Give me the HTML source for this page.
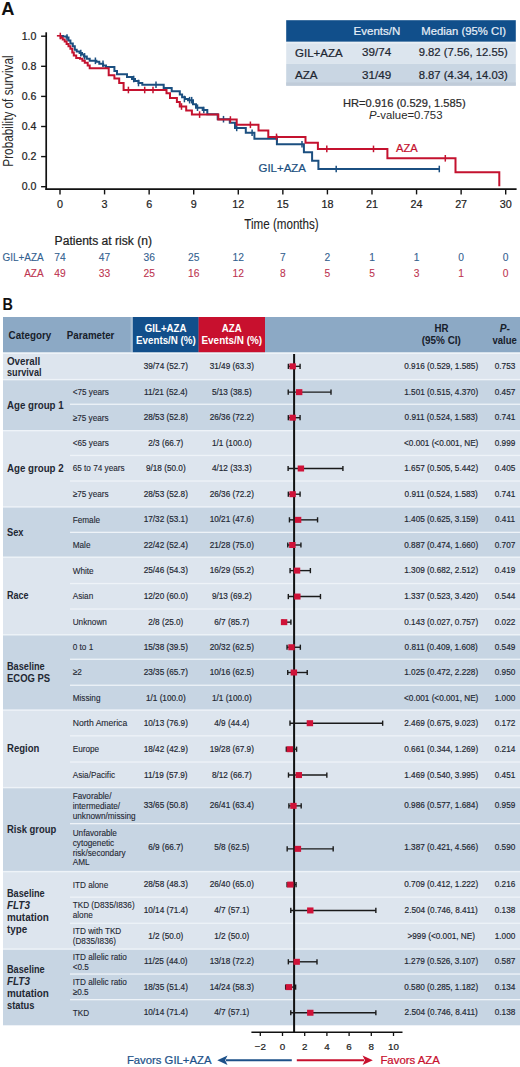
<!DOCTYPE html>
<html><head><meta charset="utf-8"><title>Figure</title>
<style>
html,body{margin:0;padding:0;background:#fff;}
body{width:520px;height:1067px;overflow:hidden;}
svg{display:block;font-family:"Liberation Sans",sans-serif;}
</style></head>
<body>
<svg width="520" height="1067" viewBox="0 0 520 1067">
<rect x="0" y="0" width="520" height="1067" fill="#ffffff"/>
<text x="1.30" y="14.80" font-size="17.5" fill="#111" font-weight="bold" textLength="13.20" lengthAdjust="spacingAndGlyphs">A</text>
<line x1="46.20" y1="32.30" x2="46.20" y2="189.90" stroke="#111" stroke-width="1.7"/>
<line x1="45.40" y1="189.20" x2="516.60" y2="189.20" stroke="#111" stroke-width="1.7"/>
<line x1="41.10" y1="186.70" x2="46.20" y2="186.70" stroke="#111" stroke-width="1.4"/>
<text x="36.40" y="190.30" font-size="11" fill="#222" stroke="#222" stroke-width="0.22" text-anchor="end" textLength="14.70" lengthAdjust="spacingAndGlyphs">0.0</text>
<line x1="41.10" y1="156.60" x2="46.20" y2="156.60" stroke="#111" stroke-width="1.4"/>
<text x="36.40" y="160.20" font-size="11" fill="#222" stroke="#222" stroke-width="0.22" text-anchor="end" textLength="14.70" lengthAdjust="spacingAndGlyphs">0.2</text>
<line x1="41.10" y1="126.50" x2="46.20" y2="126.50" stroke="#111" stroke-width="1.4"/>
<text x="36.40" y="130.10" font-size="11" fill="#222" stroke="#222" stroke-width="0.22" text-anchor="end" textLength="14.70" lengthAdjust="spacingAndGlyphs">0.4</text>
<line x1="41.10" y1="96.40" x2="46.20" y2="96.40" stroke="#111" stroke-width="1.4"/>
<text x="36.40" y="100.00" font-size="11" fill="#222" stroke="#222" stroke-width="0.22" text-anchor="end" textLength="14.70" lengthAdjust="spacingAndGlyphs">0.6</text>
<line x1="41.10" y1="66.30" x2="46.20" y2="66.30" stroke="#111" stroke-width="1.4"/>
<text x="36.40" y="69.90" font-size="11" fill="#222" stroke="#222" stroke-width="0.22" text-anchor="end" textLength="14.70" lengthAdjust="spacingAndGlyphs">0.8</text>
<line x1="41.10" y1="36.20" x2="46.20" y2="36.20" stroke="#111" stroke-width="1.4"/>
<text x="36.40" y="39.80" font-size="11" fill="#222" stroke="#222" stroke-width="0.22" text-anchor="end" textLength="14.70" lengthAdjust="spacingAndGlyphs">1.0</text>
<line x1="60.00" y1="189.20" x2="60.00" y2="194.40" stroke="#111" stroke-width="1.4"/>
<text x="60.00" y="208.30" font-size="11.5" fill="#222" stroke="#222" stroke-width="0.22" text-anchor="middle" textLength="6.00" lengthAdjust="spacingAndGlyphs">0</text>
<line x1="104.57" y1="189.20" x2="104.57" y2="194.40" stroke="#111" stroke-width="1.4"/>
<text x="104.57" y="208.30" font-size="11.5" fill="#222" stroke="#222" stroke-width="0.22" text-anchor="middle" textLength="6.00" lengthAdjust="spacingAndGlyphs">3</text>
<line x1="149.14" y1="189.20" x2="149.14" y2="194.40" stroke="#111" stroke-width="1.4"/>
<text x="149.14" y="208.30" font-size="11.5" fill="#222" stroke="#222" stroke-width="0.22" text-anchor="middle" textLength="6.00" lengthAdjust="spacingAndGlyphs">6</text>
<line x1="193.71" y1="189.20" x2="193.71" y2="194.40" stroke="#111" stroke-width="1.4"/>
<text x="193.71" y="208.30" font-size="11.5" fill="#222" stroke="#222" stroke-width="0.22" text-anchor="middle" textLength="6.00" lengthAdjust="spacingAndGlyphs">9</text>
<line x1="238.28" y1="189.20" x2="238.28" y2="194.40" stroke="#111" stroke-width="1.4"/>
<text x="238.28" y="208.30" font-size="11.5" fill="#222" stroke="#222" stroke-width="0.22" text-anchor="middle" textLength="12.00" lengthAdjust="spacingAndGlyphs">12</text>
<line x1="282.85" y1="189.20" x2="282.85" y2="194.40" stroke="#111" stroke-width="1.4"/>
<text x="282.85" y="208.30" font-size="11.5" fill="#222" stroke="#222" stroke-width="0.22" text-anchor="middle" textLength="12.00" lengthAdjust="spacingAndGlyphs">15</text>
<line x1="327.42" y1="189.20" x2="327.42" y2="194.40" stroke="#111" stroke-width="1.4"/>
<text x="327.42" y="208.30" font-size="11.5" fill="#222" stroke="#222" stroke-width="0.22" text-anchor="middle" textLength="12.00" lengthAdjust="spacingAndGlyphs">18</text>
<line x1="371.99" y1="189.20" x2="371.99" y2="194.40" stroke="#111" stroke-width="1.4"/>
<text x="371.99" y="208.30" font-size="11.5" fill="#222" stroke="#222" stroke-width="0.22" text-anchor="middle" textLength="12.00" lengthAdjust="spacingAndGlyphs">21</text>
<line x1="416.56" y1="189.20" x2="416.56" y2="194.40" stroke="#111" stroke-width="1.4"/>
<text x="416.56" y="208.30" font-size="11.5" fill="#222" stroke="#222" stroke-width="0.22" text-anchor="middle" textLength="12.00" lengthAdjust="spacingAndGlyphs">24</text>
<line x1="461.13" y1="189.20" x2="461.13" y2="194.40" stroke="#111" stroke-width="1.4"/>
<text x="461.13" y="208.30" font-size="11.5" fill="#222" stroke="#222" stroke-width="0.22" text-anchor="middle" textLength="12.00" lengthAdjust="spacingAndGlyphs">27</text>
<line x1="505.70" y1="189.20" x2="505.70" y2="194.40" stroke="#111" stroke-width="1.4"/>
<text x="505.70" y="208.30" font-size="11.5" fill="#222" stroke="#222" stroke-width="0.22" text-anchor="middle" textLength="12.00" lengthAdjust="spacingAndGlyphs">30</text>
<text x="244.30" y="229.00" font-size="14.5" fill="#222" stroke="#222" stroke-width="0.1" textLength="74.40" lengthAdjust="spacingAndGlyphs">Time (months)</text>
<text x="0" y="0" font-size="14.5" fill="#2a2a2a" textLength="111.3" lengthAdjust="spacingAndGlyphs" transform="translate(12.7,166.7) rotate(-90)">Probability of survival</text>
<path d="M60.0,36.0 H63.0 V36.5 H66.6 V37.5 H68.5 V40.6 H70.4 V43.5 H72.8 V46.3 H74.8 V49.7 H76.7 V51.6 H79.6 V53.1 H82.0 V54.5 H83.9 V56.4 H86.8 V58.8 H89.7 V60.8 H96.4 V61.7 H99.3 V63.7 H103.1 V65.6 H106.0 V67.0 H114.4 V70.9 H117.0 V74.2 H127.0 V77.1 H132.0 V79.0 H135.0 V81.0 H138.5 V83.0 H142.3 V84.7 H163.7 V88.1 H171.7 V91.3 H179.8 V94.4 H182.1 V97.3 H185.0 V99.0 H188.0 V100.2 H193.0 V104.2 H196.0 V107.7 H202.7 V110.0 H207.3 V114.3 H217.7 V119.2 H229.8 V122.7 H235.0 V127.9 H245.8 V132.7 H254.4 V138.7 H276.9 V144.2 H303.9 V152.3 H312.1 V160.8 H318.4 V169.0 H439.6" fill="none" stroke="#1b4f80" stroke-width="2" stroke-linejoin="miter"/>
<line x1="67.00" y1="34.20" x2="67.00" y2="40.80" stroke="#1b4f80" stroke-width="1.5"/>
<line x1="80.80" y1="49.80" x2="80.80" y2="56.40" stroke="#1b4f80" stroke-width="1.5"/>
<line x1="84.60" y1="53.10" x2="84.60" y2="59.70" stroke="#1b4f80" stroke-width="1.5"/>
<line x1="95.40" y1="57.50" x2="95.40" y2="64.10" stroke="#1b4f80" stroke-width="1.5"/>
<line x1="103.00" y1="60.40" x2="103.00" y2="67.00" stroke="#1b4f80" stroke-width="1.5"/>
<line x1="133.70" y1="75.70" x2="133.70" y2="82.30" stroke="#1b4f80" stroke-width="1.5"/>
<line x1="138.50" y1="79.70" x2="138.50" y2="86.30" stroke="#1b4f80" stroke-width="1.5"/>
<line x1="156.00" y1="81.40" x2="156.00" y2="88.00" stroke="#1b4f80" stroke-width="1.5"/>
<line x1="184.40" y1="95.70" x2="184.40" y2="102.30" stroke="#1b4f80" stroke-width="1.5"/>
<line x1="189.60" y1="96.90" x2="189.60" y2="103.50" stroke="#1b4f80" stroke-width="1.5"/>
<line x1="191.70" y1="96.90" x2="191.70" y2="103.50" stroke="#1b4f80" stroke-width="1.5"/>
<line x1="197.50" y1="104.40" x2="197.50" y2="111.00" stroke="#1b4f80" stroke-width="1.5"/>
<line x1="203.80" y1="106.70" x2="203.80" y2="113.30" stroke="#1b4f80" stroke-width="1.5"/>
<line x1="223.50" y1="115.90" x2="223.50" y2="122.50" stroke="#1b4f80" stroke-width="1.5"/>
<line x1="236.70" y1="124.60" x2="236.70" y2="131.20" stroke="#1b4f80" stroke-width="1.5"/>
<line x1="252.10" y1="129.40" x2="252.10" y2="136.00" stroke="#1b4f80" stroke-width="1.5"/>
<line x1="276.90" y1="135.40" x2="276.90" y2="142.00" stroke="#1b4f80" stroke-width="1.5"/>
<line x1="302.00" y1="140.90" x2="302.00" y2="147.50" stroke="#1b4f80" stroke-width="1.5"/>
<line x1="336.20" y1="165.70" x2="336.20" y2="172.30" stroke="#1b4f80" stroke-width="1.5"/>
<line x1="439.30" y1="165.70" x2="439.30" y2="172.30" stroke="#1b4f80" stroke-width="1.5"/>
<path d="M60.0,36.0 H60.8 V37.7 H62.7 V39.6 H64.7 V41.5 H66.6 V43.9 H68.5 V46.3 H70.4 V48.8 H72.3 V52.6 H73.8 V55.5 H76.2 V57.9 H80.0 V58.8 H82.4 V60.8 H84.8 V62.7 H87.7 V65.6 H89.7 V68.3 H108.7 V75.2 H114.4 V78.6 H119.2 V82.9 H123.6 V90.0 H166.5 V93.3 H170.0 V97.9 H176.9 V101.9 H179.8 V106.5 H186.2 V110.6 H191.9 V114.6 H218.3 V119.5 H236.7 V124.8 H258.5 V130.6 H268.3 V136.9 H305.5 V142.8 H317.9 V148.9 H387.4 V158.3 H455.5 V172.3 H499.3 V186.3 H499.3" fill="none" stroke="#c4122f" stroke-width="2" stroke-linejoin="miter"/>
<line x1="60.30" y1="32.70" x2="60.30" y2="39.30" stroke="#c4122f" stroke-width="1.5"/>
<line x1="128.40" y1="86.70" x2="128.40" y2="93.30" stroke="#c4122f" stroke-width="1.5"/>
<line x1="144.70" y1="86.70" x2="144.70" y2="93.30" stroke="#c4122f" stroke-width="1.5"/>
<line x1="153.00" y1="86.70" x2="153.00" y2="93.30" stroke="#c4122f" stroke-width="1.5"/>
<line x1="181.50" y1="103.20" x2="181.50" y2="109.80" stroke="#c4122f" stroke-width="1.5"/>
<line x1="199.60" y1="111.30" x2="199.60" y2="117.90" stroke="#c4122f" stroke-width="1.5"/>
<line x1="230.40" y1="116.20" x2="230.40" y2="122.80" stroke="#c4122f" stroke-width="1.5"/>
<line x1="250.40" y1="121.50" x2="250.40" y2="128.10" stroke="#c4122f" stroke-width="1.5"/>
<line x1="276.50" y1="133.60" x2="276.50" y2="140.20" stroke="#c4122f" stroke-width="1.5"/>
<line x1="326.80" y1="145.60" x2="326.80" y2="152.20" stroke="#c4122f" stroke-width="1.5"/>
<line x1="373.50" y1="145.60" x2="373.50" y2="152.20" stroke="#c4122f" stroke-width="1.5"/>
<line x1="445.30" y1="155.00" x2="445.30" y2="161.60" stroke="#c4122f" stroke-width="1.5"/>
<line x1="56.90" y1="35.80" x2="60.50" y2="35.80" stroke="#c4122f" stroke-width="1.6"/>
<text x="396.00" y="151.60" font-size="11" fill="#c4122f" stroke="#c4122f" stroke-width="0.22" textLength="21.70" lengthAdjust="spacingAndGlyphs">AZA</text>
<text x="258.50" y="172.30" font-size="11" fill="#1b4f80" stroke="#1b4f80" stroke-width="0.22" textLength="47.40" lengthAdjust="spacingAndGlyphs">GIL+AZA</text>
<rect x="286.20" y="20.20" width="229.60" height="21.60" fill="#114f8b"/>
<rect x="286.20" y="41.80" width="229.60" height="1.40" fill="#e9eff5"/>
<rect x="286.20" y="43.20" width="229.60" height="20.60" fill="#dce5ee"/>
<rect x="286.20" y="63.80" width="229.60" height="21.90" fill="#c9d6e3"/>
<rect x="286.20" y="82.40" width="229.60" height="3.30" fill="#c0ccd9"/>
<text x="353.60" y="34.70" font-size="11.5" fill="#e6eef7" stroke="#e6eef7" stroke-width="0.22" textLength="46.70" lengthAdjust="spacingAndGlyphs">Events/N</text>
<text x="421.30" y="34.70" font-size="11.5" fill="#e6eef7" stroke="#e6eef7" stroke-width="0.22" textLength="84.80" lengthAdjust="spacingAndGlyphs">Median (95% CI)</text>
<text x="295.00" y="56.50" font-size="11.2" fill="#1d2631" stroke="#1d2631" stroke-width="0.22" textLength="47.60" lengthAdjust="spacingAndGlyphs">GIL+AZA</text>
<text x="295.00" y="78.70" font-size="11.2" fill="#1d2631" stroke="#1d2631" stroke-width="0.22" textLength="22.60" lengthAdjust="spacingAndGlyphs">AZA</text>
<text x="362.10" y="56.40" font-size="11.5" fill="#1d2631" stroke="#1d2631" stroke-width="0.22" textLength="29.20" lengthAdjust="spacingAndGlyphs">39/74</text>
<text x="362.10" y="78.60" font-size="11.5" fill="#1d2631" stroke="#1d2631" stroke-width="0.22" textLength="29.20" lengthAdjust="spacingAndGlyphs">31/49</text>
<text x="418.70" y="56.40" font-size="11.5" fill="#1d2631" stroke="#1d2631" stroke-width="0.22" textLength="89.00" lengthAdjust="spacingAndGlyphs">9.82 (7.56, 12.55)</text>
<text x="418.70" y="78.60" font-size="11.5" fill="#1d2631" stroke="#1d2631" stroke-width="0.22" textLength="89.00" lengthAdjust="spacingAndGlyphs">8.87 (4.34, 14.03)</text>
<text x="404.30" y="106.70" font-size="11.2" fill="#2a2a2a" stroke="#2a2a2a" stroke-width="0.22" text-anchor="middle" textLength="122.60" lengthAdjust="spacingAndGlyphs">HR=0.916 (0.529, 1.585)</text>
<text x="369.0" y="119.0" font-size="11.2" fill="#2a2a2a" textLength="73.5" lengthAdjust="spacingAndGlyphs"><tspan font-style="italic">P</tspan>-value=0.753</text>
<text x="54.60" y="245.00" font-size="12" fill="#222" stroke="#222" stroke-width="0.22" textLength="97.40" lengthAdjust="spacingAndGlyphs">Patients at risk (n)</text>
<text x="43.70" y="260.80" font-size="10" fill="#33618f" stroke="#33618f" stroke-width="0.1" text-anchor="end" textLength="41.30" lengthAdjust="spacingAndGlyphs">GIL+AZA</text>
<text x="43.70" y="277.30" font-size="10" fill="#bd3450" stroke="#bd3450" stroke-width="0.1" text-anchor="end" textLength="19.50" lengthAdjust="spacingAndGlyphs">AZA</text>
<text x="60.00" y="260.80" font-size="10.3" fill="#33618f" stroke="#33618f" stroke-width="0.1" text-anchor="middle" textLength="11.40" lengthAdjust="spacingAndGlyphs">74</text>
<text x="60.00" y="277.30" font-size="10.3" fill="#bd3450" stroke="#bd3450" stroke-width="0.1" text-anchor="middle" textLength="11.40" lengthAdjust="spacingAndGlyphs">49</text>
<text x="104.57" y="260.80" font-size="10.3" fill="#33618f" stroke="#33618f" stroke-width="0.1" text-anchor="middle" textLength="11.40" lengthAdjust="spacingAndGlyphs">47</text>
<text x="104.57" y="277.30" font-size="10.3" fill="#bd3450" stroke="#bd3450" stroke-width="0.1" text-anchor="middle" textLength="11.40" lengthAdjust="spacingAndGlyphs">33</text>
<text x="149.14" y="260.80" font-size="10.3" fill="#33618f" stroke="#33618f" stroke-width="0.1" text-anchor="middle" textLength="11.40" lengthAdjust="spacingAndGlyphs">36</text>
<text x="149.14" y="277.30" font-size="10.3" fill="#bd3450" stroke="#bd3450" stroke-width="0.1" text-anchor="middle" textLength="11.40" lengthAdjust="spacingAndGlyphs">25</text>
<text x="193.71" y="260.80" font-size="10.3" fill="#33618f" stroke="#33618f" stroke-width="0.1" text-anchor="middle" textLength="11.40" lengthAdjust="spacingAndGlyphs">25</text>
<text x="193.71" y="277.30" font-size="10.3" fill="#bd3450" stroke="#bd3450" stroke-width="0.1" text-anchor="middle" textLength="11.40" lengthAdjust="spacingAndGlyphs">16</text>
<text x="238.28" y="260.80" font-size="10.3" fill="#33618f" stroke="#33618f" stroke-width="0.1" text-anchor="middle" textLength="11.40" lengthAdjust="spacingAndGlyphs">12</text>
<text x="238.28" y="277.30" font-size="10.3" fill="#bd3450" stroke="#bd3450" stroke-width="0.1" text-anchor="middle" textLength="11.40" lengthAdjust="spacingAndGlyphs">12</text>
<text x="282.85" y="260.80" font-size="10.3" fill="#33618f" stroke="#33618f" stroke-width="0.1" text-anchor="middle" textLength="5.70" lengthAdjust="spacingAndGlyphs">7</text>
<text x="282.85" y="277.30" font-size="10.3" fill="#bd3450" stroke="#bd3450" stroke-width="0.1" text-anchor="middle" textLength="5.70" lengthAdjust="spacingAndGlyphs">8</text>
<text x="327.42" y="260.80" font-size="10.3" fill="#33618f" stroke="#33618f" stroke-width="0.1" text-anchor="middle" textLength="5.70" lengthAdjust="spacingAndGlyphs">2</text>
<text x="327.42" y="277.30" font-size="10.3" fill="#bd3450" stroke="#bd3450" stroke-width="0.1" text-anchor="middle" textLength="5.70" lengthAdjust="spacingAndGlyphs">5</text>
<text x="371.99" y="260.80" font-size="10.3" fill="#33618f" stroke="#33618f" stroke-width="0.1" text-anchor="middle" textLength="5.70" lengthAdjust="spacingAndGlyphs">1</text>
<text x="371.99" y="277.30" font-size="10.3" fill="#bd3450" stroke="#bd3450" stroke-width="0.1" text-anchor="middle" textLength="5.70" lengthAdjust="spacingAndGlyphs">5</text>
<text x="416.56" y="260.80" font-size="10.3" fill="#33618f" stroke="#33618f" stroke-width="0.1" text-anchor="middle" textLength="5.70" lengthAdjust="spacingAndGlyphs">1</text>
<text x="416.56" y="277.30" font-size="10.3" fill="#bd3450" stroke="#bd3450" stroke-width="0.1" text-anchor="middle" textLength="5.70" lengthAdjust="spacingAndGlyphs">3</text>
<text x="461.13" y="260.80" font-size="10.3" fill="#33618f" stroke="#33618f" stroke-width="0.1" text-anchor="middle" textLength="5.70" lengthAdjust="spacingAndGlyphs">0</text>
<text x="461.13" y="277.30" font-size="10.3" fill="#bd3450" stroke="#bd3450" stroke-width="0.1" text-anchor="middle" textLength="5.70" lengthAdjust="spacingAndGlyphs">1</text>
<text x="505.70" y="260.80" font-size="10.3" fill="#33618f" stroke="#33618f" stroke-width="0.1" text-anchor="middle" textLength="5.70" lengthAdjust="spacingAndGlyphs">0</text>
<text x="505.70" y="277.30" font-size="10.3" fill="#bd3450" stroke="#bd3450" stroke-width="0.1" text-anchor="middle" textLength="5.70" lengthAdjust="spacingAndGlyphs">0</text>
<text x="2.50" y="309.60" font-size="16.5" fill="#111" font-weight="bold" textLength="10.40" lengthAdjust="spacingAndGlyphs">B</text>
<rect x="3.00" y="317.00" width="517.00" height="35.60" fill="#8ca9c5"/>
<rect x="132.70" y="317.00" width="65.90" height="35.60" fill="#124f8b"/>
<rect x="198.60" y="317.00" width="66.40" height="35.60" fill="#c8102e"/>
<rect x="130.60" y="317.00" width="2.10" height="35.60" fill="#a9bfd4"/>
<text x="8.60" y="338.90" font-size="10.8" fill="#17202b" font-weight="bold" textLength="42.60" lengthAdjust="spacingAndGlyphs">Category</text>
<text x="66.80" y="338.90" font-size="10.8" fill="#17202b" font-weight="bold" textLength="47.60" lengthAdjust="spacingAndGlyphs">Parameter</text>
<text x="165.60" y="332.20" font-size="10.2" fill="#ffffff" text-anchor="middle" font-weight="bold" textLength="41.76" lengthAdjust="spacingAndGlyphs">GIL+AZA</text>
<text x="165.90" y="344.00" font-size="10.2" fill="#ffffff" text-anchor="middle" font-weight="bold" textLength="59.70" lengthAdjust="spacingAndGlyphs">Events/N (%)</text>
<text x="231.80" y="332.20" font-size="10.2" fill="#ffffff" text-anchor="middle" font-weight="bold" textLength="19.94" lengthAdjust="spacingAndGlyphs">AZA</text>
<text x="231.80" y="344.00" font-size="10.2" fill="#ffffff" text-anchor="middle" font-weight="bold" textLength="60.60" lengthAdjust="spacingAndGlyphs">Events/N (%)</text>
<text x="441.40" y="332.00" font-size="10.2" fill="#17202b" text-anchor="middle" font-weight="bold" textLength="14.01" lengthAdjust="spacingAndGlyphs">HR</text>
<text x="441.30" y="343.70" font-size="10.2" fill="#17202b" text-anchor="middle" font-weight="bold" textLength="39.10" lengthAdjust="spacingAndGlyphs">(95% CI)</text>
<text x="506.60" y="332.00" font-size="10.2" fill="#17202b" text-anchor="end" font-weight="bold" font-style="italic">P</text>
<text x="506.60" y="332.00" font-size="10.2" fill="#17202b" font-weight="bold">-</text>
<text x="504.60" y="343.70" font-size="10.2" fill="#17202b" text-anchor="middle" font-weight="bold" textLength="24.30" lengthAdjust="spacingAndGlyphs">value</text>
<rect x="3.00" y="352.60" width="517.00" height="26.90" fill="#dde5ee"/>
<rect x="3.00" y="352.60" width="517.00" height="1.40" fill="#eef3f8"/>
<text x="7.00" y="364.60" font-size="10.5" fill="#1f2833" font-weight="bold" textLength="33.20" lengthAdjust="spacingAndGlyphs">Overall</text>
<text x="7.00" y="376.30" font-size="10.5" fill="#1f2833" font-weight="bold" textLength="34.50" lengthAdjust="spacingAndGlyphs">survival</text>
<text x="165.80" y="368.95" font-size="9.5" fill="#1f2833" stroke="#1f2833" stroke-width="0.2" text-anchor="middle" textLength="44.21" lengthAdjust="spacingAndGlyphs">39/74 (52.7)</text>
<text x="231.80" y="368.95" font-size="9.5" fill="#1f2833" stroke="#1f2833" stroke-width="0.2" text-anchor="middle" textLength="44.21" lengthAdjust="spacingAndGlyphs">31/49 (63.3)</text>
<text x="441.20" y="368.95" font-size="9.5" fill="#1f2833" stroke="#1f2833" stroke-width="0.2" text-anchor="middle" textLength="73.85" lengthAdjust="spacingAndGlyphs">0.916 (0.529, 1.585)</text>
<text x="505.00" y="368.95" font-size="9.5" fill="#1f2833" stroke="#1f2833" stroke-width="0.2" text-anchor="middle" textLength="20.52" lengthAdjust="spacingAndGlyphs">0.753</text>
<rect x="3.00" y="379.50" width="517.00" height="51.10" fill="#c7d5e3"/>
<rect x="3.00" y="378.90" width="517.00" height="1.40" fill="#eef3f8"/>
<rect x="70.00" y="403.60" width="450.00" height="1.30" fill="#eef3f8"/>
<text x="7.00" y="408.70" font-size="10.5" fill="#1f2833" font-weight="bold" textLength="56.60" lengthAdjust="spacingAndGlyphs">Age group 1</text>
<text x="72.70" y="395.05" font-size="9.3" fill="#1f2833" stroke="#1f2833" stroke-width="0.12" textLength="36.24" lengthAdjust="spacingAndGlyphs">&lt;75 years</text>
<text x="165.80" y="394.75" font-size="9.5" fill="#1f2833" stroke="#1f2833" stroke-width="0.2" text-anchor="middle" textLength="43.61" lengthAdjust="spacingAndGlyphs">11/21 (52.4)</text>
<text x="231.80" y="394.75" font-size="9.5" fill="#1f2833" stroke="#1f2833" stroke-width="0.2" text-anchor="middle" textLength="39.65" lengthAdjust="spacingAndGlyphs">5/13 (38.5)</text>
<text x="441.20" y="394.75" font-size="9.5" fill="#1f2833" stroke="#1f2833" stroke-width="0.2" text-anchor="middle" textLength="73.85" lengthAdjust="spacingAndGlyphs">1.501 (0.515, 4.370)</text>
<text x="505.00" y="394.75" font-size="9.5" fill="#1f2833" stroke="#1f2833" stroke-width="0.2" text-anchor="middle" textLength="20.52" lengthAdjust="spacingAndGlyphs">0.457</text>
<text x="72.70" y="420.60" font-size="9.3" fill="#1f2833" stroke="#1f2833" stroke-width="0.12" textLength="35.95" lengthAdjust="spacingAndGlyphs">≥75 years</text>
<text x="165.80" y="420.30" font-size="9.5" fill="#1f2833" stroke="#1f2833" stroke-width="0.2" text-anchor="middle" textLength="44.21" lengthAdjust="spacingAndGlyphs">28/53 (52.8)</text>
<text x="231.80" y="420.30" font-size="9.5" fill="#1f2833" stroke="#1f2833" stroke-width="0.2" text-anchor="middle" textLength="44.21" lengthAdjust="spacingAndGlyphs">26/36 (72.2)</text>
<text x="441.20" y="420.30" font-size="9.5" fill="#1f2833" stroke="#1f2833" stroke-width="0.2" text-anchor="middle" textLength="73.24" lengthAdjust="spacingAndGlyphs">0.911 (0.524, 1.583)</text>
<text x="505.00" y="420.30" font-size="9.5" fill="#1f2833" stroke="#1f2833" stroke-width="0.2" text-anchor="middle" textLength="20.52" lengthAdjust="spacingAndGlyphs">0.741</text>
<rect x="3.00" y="430.60" width="517.00" height="76.20" fill="#dde5ee"/>
<rect x="3.00" y="430.00" width="517.00" height="1.40" fill="#eef3f8"/>
<rect x="70.00" y="454.80" width="450.00" height="1.30" fill="#eef3f8"/>
<rect x="70.00" y="480.40" width="450.00" height="1.30" fill="#eef3f8"/>
<text x="7.00" y="472.00" font-size="10.5" fill="#1f2833" font-weight="bold" textLength="56.60" lengthAdjust="spacingAndGlyphs">Age group 2</text>
<text x="72.70" y="446.20" font-size="9.3" fill="#1f2833" stroke="#1f2833" stroke-width="0.12" textLength="36.24" lengthAdjust="spacingAndGlyphs">&lt;65 years</text>
<text x="165.80" y="445.90" font-size="9.5" fill="#1f2833" stroke="#1f2833" stroke-width="0.2" text-anchor="middle" textLength="35.09" lengthAdjust="spacingAndGlyphs">2/3 (66.7)</text>
<text x="231.80" y="445.90" font-size="9.5" fill="#1f2833" stroke="#1f2833" stroke-width="0.2" text-anchor="middle" textLength="39.65" lengthAdjust="spacingAndGlyphs">1/1 (100.0)</text>
<text x="441.20" y="445.90" font-size="9.5" fill="#1f2833" stroke="#1f2833" stroke-width="0.2" text-anchor="middle" textLength="74.30" lengthAdjust="spacingAndGlyphs">&lt;0.001 (&lt;0.001, NE)</text>
<text x="505.00" y="445.90" font-size="9.5" fill="#1f2833" stroke="#1f2833" stroke-width="0.2" text-anchor="middle" textLength="20.52" lengthAdjust="spacingAndGlyphs">0.999</text>
<text x="72.70" y="471.40" font-size="9.3" fill="#1f2833" stroke="#1f2833" stroke-width="0.12" textLength="51.96" lengthAdjust="spacingAndGlyphs">65 to 74 years</text>
<text x="165.80" y="471.10" font-size="9.5" fill="#1f2833" stroke="#1f2833" stroke-width="0.2" text-anchor="middle" textLength="39.65" lengthAdjust="spacingAndGlyphs">9/18 (50.0)</text>
<text x="231.80" y="471.10" font-size="9.5" fill="#1f2833" stroke="#1f2833" stroke-width="0.2" text-anchor="middle" textLength="39.65" lengthAdjust="spacingAndGlyphs">4/12 (33.3)</text>
<text x="441.20" y="471.10" font-size="9.5" fill="#1f2833" stroke="#1f2833" stroke-width="0.2" text-anchor="middle" textLength="73.85" lengthAdjust="spacingAndGlyphs">1.657 (0.505, 5.442)</text>
<text x="505.00" y="471.10" font-size="9.5" fill="#1f2833" stroke="#1f2833" stroke-width="0.2" text-anchor="middle" textLength="20.52" lengthAdjust="spacingAndGlyphs">0.405</text>
<text x="72.70" y="497.10" font-size="9.3" fill="#1f2833" stroke="#1f2833" stroke-width="0.12" textLength="35.95" lengthAdjust="spacingAndGlyphs">≥75 years</text>
<text x="165.80" y="496.80" font-size="9.5" fill="#1f2833" stroke="#1f2833" stroke-width="0.2" text-anchor="middle" textLength="44.21" lengthAdjust="spacingAndGlyphs">28/53 (52.8)</text>
<text x="231.80" y="496.80" font-size="9.5" fill="#1f2833" stroke="#1f2833" stroke-width="0.2" text-anchor="middle" textLength="44.21" lengthAdjust="spacingAndGlyphs">26/36 (72.2)</text>
<text x="441.20" y="496.80" font-size="9.5" fill="#1f2833" stroke="#1f2833" stroke-width="0.2" text-anchor="middle" textLength="73.24" lengthAdjust="spacingAndGlyphs">0.911 (0.524, 1.583)</text>
<text x="505.00" y="496.80" font-size="9.5" fill="#1f2833" stroke="#1f2833" stroke-width="0.2" text-anchor="middle" textLength="20.52" lengthAdjust="spacingAndGlyphs">0.741</text>
<rect x="3.00" y="506.80" width="517.00" height="50.30" fill="#c7d5e3"/>
<rect x="3.00" y="506.20" width="517.00" height="1.40" fill="#eef3f8"/>
<rect x="70.00" y="531.70" width="450.00" height="1.30" fill="#eef3f8"/>
<text x="7.00" y="535.50" font-size="10.5" fill="#1f2833" font-weight="bold" textLength="16.50" lengthAdjust="spacingAndGlyphs">Sex</text>
<text x="72.70" y="522.75" font-size="9.3" fill="#1f2833" stroke="#1f2833" stroke-width="0.12" textLength="27.34" lengthAdjust="spacingAndGlyphs">Female</text>
<text x="165.80" y="522.45" font-size="9.5" fill="#1f2833" stroke="#1f2833" stroke-width="0.2" text-anchor="middle" textLength="44.21" lengthAdjust="spacingAndGlyphs">17/32 (53.1)</text>
<text x="231.80" y="522.45" font-size="9.5" fill="#1f2833" stroke="#1f2833" stroke-width="0.2" text-anchor="middle" textLength="44.21" lengthAdjust="spacingAndGlyphs">10/21 (47.6)</text>
<text x="441.20" y="522.45" font-size="9.5" fill="#1f2833" stroke="#1f2833" stroke-width="0.2" text-anchor="middle" textLength="73.85" lengthAdjust="spacingAndGlyphs">1.405 (0.625, 3.159)</text>
<text x="505.00" y="522.45" font-size="9.5" fill="#1f2833" stroke="#1f2833" stroke-width="0.2" text-anchor="middle" textLength="19.91" lengthAdjust="spacingAndGlyphs">0.411</text>
<text x="72.70" y="547.90" font-size="9.3" fill="#1f2833" stroke="#1f2833" stroke-width="0.12" textLength="17.77" lengthAdjust="spacingAndGlyphs">Male</text>
<text x="165.80" y="547.60" font-size="9.5" fill="#1f2833" stroke="#1f2833" stroke-width="0.2" text-anchor="middle" textLength="44.21" lengthAdjust="spacingAndGlyphs">22/42 (52.4)</text>
<text x="231.80" y="547.60" font-size="9.5" fill="#1f2833" stroke="#1f2833" stroke-width="0.2" text-anchor="middle" textLength="44.21" lengthAdjust="spacingAndGlyphs">21/28 (75.0)</text>
<text x="441.20" y="547.60" font-size="9.5" fill="#1f2833" stroke="#1f2833" stroke-width="0.2" text-anchor="middle" textLength="73.85" lengthAdjust="spacingAndGlyphs">0.887 (0.474, 1.660)</text>
<text x="505.00" y="547.60" font-size="9.5" fill="#1f2833" stroke="#1f2833" stroke-width="0.2" text-anchor="middle" textLength="20.52" lengthAdjust="spacingAndGlyphs">0.707</text>
<rect x="3.00" y="557.10" width="517.00" height="77.60" fill="#dde5ee"/>
<rect x="3.00" y="556.50" width="517.00" height="1.40" fill="#eef3f8"/>
<rect x="70.00" y="582.90" width="450.00" height="1.30" fill="#eef3f8"/>
<rect x="70.00" y="608.40" width="450.00" height="1.30" fill="#eef3f8"/>
<text x="7.00" y="599.10" font-size="10.5" fill="#1f2833" font-weight="bold" textLength="21.50" lengthAdjust="spacingAndGlyphs">Race</text>
<text x="72.70" y="573.50" font-size="9.3" fill="#1f2833" stroke="#1f2833" stroke-width="0.12" textLength="20.96" lengthAdjust="spacingAndGlyphs">White</text>
<text x="165.80" y="573.20" font-size="9.5" fill="#1f2833" stroke="#1f2833" stroke-width="0.2" text-anchor="middle" textLength="44.21" lengthAdjust="spacingAndGlyphs">25/46 (54.3)</text>
<text x="231.80" y="573.20" font-size="9.5" fill="#1f2833" stroke="#1f2833" stroke-width="0.2" text-anchor="middle" textLength="44.21" lengthAdjust="spacingAndGlyphs">16/29 (55.2)</text>
<text x="441.20" y="573.20" font-size="9.5" fill="#1f2833" stroke="#1f2833" stroke-width="0.2" text-anchor="middle" textLength="73.85" lengthAdjust="spacingAndGlyphs">1.309 (0.682, 2.512)</text>
<text x="505.00" y="573.20" font-size="9.5" fill="#1f2833" stroke="#1f2833" stroke-width="0.2" text-anchor="middle" textLength="20.52" lengthAdjust="spacingAndGlyphs">0.419</text>
<text x="72.70" y="599.45" font-size="9.3" fill="#1f2833" stroke="#1f2833" stroke-width="0.12" textLength="20.51" lengthAdjust="spacingAndGlyphs">Asian</text>
<text x="165.80" y="599.15" font-size="9.5" fill="#1f2833" stroke="#1f2833" stroke-width="0.2" text-anchor="middle" textLength="44.21" lengthAdjust="spacingAndGlyphs">12/20 (60.0)</text>
<text x="231.80" y="599.15" font-size="9.5" fill="#1f2833" stroke="#1f2833" stroke-width="0.2" text-anchor="middle" textLength="39.65" lengthAdjust="spacingAndGlyphs">9/13 (69.2)</text>
<text x="441.20" y="599.15" font-size="9.5" fill="#1f2833" stroke="#1f2833" stroke-width="0.2" text-anchor="middle" textLength="73.85" lengthAdjust="spacingAndGlyphs">1.337 (0.523, 3.420)</text>
<text x="505.00" y="599.15" font-size="9.5" fill="#1f2833" stroke="#1f2833" stroke-width="0.2" text-anchor="middle" textLength="20.52" lengthAdjust="spacingAndGlyphs">0.544</text>
<text x="72.70" y="625.05" font-size="9.3" fill="#1f2833" stroke="#1f2833" stroke-width="0.12" textLength="34.18" lengthAdjust="spacingAndGlyphs">Unknown</text>
<text x="165.80" y="624.75" font-size="9.5" fill="#1f2833" stroke="#1f2833" stroke-width="0.2" text-anchor="middle" textLength="35.09" lengthAdjust="spacingAndGlyphs">2/8 (25.0)</text>
<text x="231.80" y="624.75" font-size="9.5" fill="#1f2833" stroke="#1f2833" stroke-width="0.2" text-anchor="middle" textLength="35.09" lengthAdjust="spacingAndGlyphs">6/7 (85.7)</text>
<text x="441.20" y="624.75" font-size="9.5" fill="#1f2833" stroke="#1f2833" stroke-width="0.2" text-anchor="middle" textLength="73.85" lengthAdjust="spacingAndGlyphs">0.143 (0.027, 0.757)</text>
<text x="505.00" y="624.75" font-size="9.5" fill="#1f2833" stroke="#1f2833" stroke-width="0.2" text-anchor="middle" textLength="20.52" lengthAdjust="spacingAndGlyphs">0.022</text>
<rect x="3.00" y="634.70" width="517.00" height="75.30" fill="#c7d5e3"/>
<rect x="3.00" y="634.10" width="517.00" height="1.40" fill="#eef3f8"/>
<rect x="70.00" y="658.60" width="450.00" height="1.30" fill="#eef3f8"/>
<rect x="70.00" y="684.60" width="450.00" height="1.30" fill="#eef3f8"/>
<text x="7.00" y="670.30" font-size="10.5" fill="#1f2833" font-weight="bold" textLength="37.70" lengthAdjust="spacingAndGlyphs">Baseline</text>
<text x="7.00" y="682.20" font-size="10.5" fill="#1f2833" font-weight="bold" textLength="43.10" lengthAdjust="spacingAndGlyphs">ECOG PS</text>
<text x="72.70" y="650.15" font-size="9.3" fill="#1f2833" stroke="#1f2833" stroke-width="0.12" textLength="20.51" lengthAdjust="spacingAndGlyphs">0 to 1</text>
<text x="165.80" y="649.85" font-size="9.5" fill="#1f2833" stroke="#1f2833" stroke-width="0.2" text-anchor="middle" textLength="44.21" lengthAdjust="spacingAndGlyphs">15/38 (39.5)</text>
<text x="231.80" y="649.85" font-size="9.5" fill="#1f2833" stroke="#1f2833" stroke-width="0.2" text-anchor="middle" textLength="44.21" lengthAdjust="spacingAndGlyphs">20/32 (62.5)</text>
<text x="441.20" y="649.85" font-size="9.5" fill="#1f2833" stroke="#1f2833" stroke-width="0.2" text-anchor="middle" textLength="73.24" lengthAdjust="spacingAndGlyphs">0.811 (0.409, 1.608)</text>
<text x="505.00" y="649.85" font-size="9.5" fill="#1f2833" stroke="#1f2833" stroke-width="0.2" text-anchor="middle" textLength="20.52" lengthAdjust="spacingAndGlyphs">0.549</text>
<text x="72.70" y="675.40" font-size="9.3" fill="#1f2833" stroke="#1f2833" stroke-width="0.12" textLength="9.06" lengthAdjust="spacingAndGlyphs">≥2</text>
<text x="165.80" y="675.10" font-size="9.5" fill="#1f2833" stroke="#1f2833" stroke-width="0.2" text-anchor="middle" textLength="44.21" lengthAdjust="spacingAndGlyphs">23/35 (65.7)</text>
<text x="231.80" y="675.10" font-size="9.5" fill="#1f2833" stroke="#1f2833" stroke-width="0.2" text-anchor="middle" textLength="44.21" lengthAdjust="spacingAndGlyphs">10/16 (62.5)</text>
<text x="441.20" y="675.10" font-size="9.5" fill="#1f2833" stroke="#1f2833" stroke-width="0.2" text-anchor="middle" textLength="73.85" lengthAdjust="spacingAndGlyphs">1.025 (0.472, 2.228)</text>
<text x="505.00" y="675.10" font-size="9.5" fill="#1f2833" stroke="#1f2833" stroke-width="0.2" text-anchor="middle" textLength="20.52" lengthAdjust="spacingAndGlyphs">0.950</text>
<text x="72.70" y="700.80" font-size="9.3" fill="#1f2833" stroke="#1f2833" stroke-width="0.12" textLength="27.79" lengthAdjust="spacingAndGlyphs">Missing</text>
<text x="165.80" y="700.50" font-size="9.5" fill="#1f2833" stroke="#1f2833" stroke-width="0.2" text-anchor="middle" textLength="39.65" lengthAdjust="spacingAndGlyphs">1/1 (100.0)</text>
<text x="231.80" y="700.50" font-size="9.5" fill="#1f2833" stroke="#1f2833" stroke-width="0.2" text-anchor="middle" textLength="39.65" lengthAdjust="spacingAndGlyphs">1/1 (100.0)</text>
<text x="441.20" y="700.50" font-size="9.5" fill="#1f2833" stroke="#1f2833" stroke-width="0.2" text-anchor="middle" textLength="74.30" lengthAdjust="spacingAndGlyphs">&lt;0.001 (&lt;0.001, NE)</text>
<text x="505.00" y="700.50" font-size="9.5" fill="#1f2833" stroke="#1f2833" stroke-width="0.2" text-anchor="middle" textLength="20.52" lengthAdjust="spacingAndGlyphs">1.000</text>
<rect x="3.00" y="710.00" width="517.00" height="77.50" fill="#dde5ee"/>
<rect x="3.00" y="709.40" width="517.00" height="1.40" fill="#eef3f8"/>
<rect x="70.00" y="735.20" width="450.00" height="1.30" fill="#eef3f8"/>
<rect x="70.00" y="761.40" width="450.00" height="1.30" fill="#eef3f8"/>
<text x="7.00" y="752.20" font-size="10.5" fill="#1f2833" font-weight="bold" textLength="32.30" lengthAdjust="spacingAndGlyphs">Region</text>
<text x="72.70" y="726.10" font-size="9.3" fill="#1f2833" stroke="#1f2833" stroke-width="0.12" textLength="54.50" lengthAdjust="spacingAndGlyphs">North America</text>
<text x="165.80" y="725.80" font-size="9.5" fill="#1f2833" stroke="#1f2833" stroke-width="0.2" text-anchor="middle" textLength="44.21" lengthAdjust="spacingAndGlyphs">10/13 (76.9)</text>
<text x="231.80" y="725.80" font-size="9.5" fill="#1f2833" stroke="#1f2833" stroke-width="0.2" text-anchor="middle" textLength="35.09" lengthAdjust="spacingAndGlyphs">4/9 (44.4)</text>
<text x="441.20" y="725.80" font-size="9.5" fill="#1f2833" stroke="#1f2833" stroke-width="0.2" text-anchor="middle" textLength="73.85" lengthAdjust="spacingAndGlyphs">2.469 (0.675, 9.023)</text>
<text x="505.00" y="725.80" font-size="9.5" fill="#1f2833" stroke="#1f2833" stroke-width="0.2" text-anchor="middle" textLength="20.52" lengthAdjust="spacingAndGlyphs">0.172</text>
<text x="72.70" y="752.10" font-size="9.3" fill="#1f2833" stroke="#1f2833" stroke-width="0.12" textLength="26.44" lengthAdjust="spacingAndGlyphs">Europe</text>
<text x="165.80" y="751.80" font-size="9.5" fill="#1f2833" stroke="#1f2833" stroke-width="0.2" text-anchor="middle" textLength="44.21" lengthAdjust="spacingAndGlyphs">18/42 (42.9)</text>
<text x="231.80" y="751.80" font-size="9.5" fill="#1f2833" stroke="#1f2833" stroke-width="0.2" text-anchor="middle" textLength="44.21" lengthAdjust="spacingAndGlyphs">19/28 (67.9)</text>
<text x="441.20" y="751.80" font-size="9.5" fill="#1f2833" stroke="#1f2833" stroke-width="0.2" text-anchor="middle" textLength="73.85" lengthAdjust="spacingAndGlyphs">0.661 (0.344, 1.269)</text>
<text x="505.00" y="751.80" font-size="9.5" fill="#1f2833" stroke="#1f2833" stroke-width="0.2" text-anchor="middle" textLength="20.52" lengthAdjust="spacingAndGlyphs">0.214</text>
<text x="72.70" y="777.95" font-size="9.3" fill="#1f2833" stroke="#1f2833" stroke-width="0.12" textLength="42.38" lengthAdjust="spacingAndGlyphs">Asia/Pacific</text>
<text x="165.80" y="777.65" font-size="9.5" fill="#1f2833" stroke="#1f2833" stroke-width="0.2" text-anchor="middle" textLength="43.61" lengthAdjust="spacingAndGlyphs">11/19 (57.9)</text>
<text x="231.80" y="777.65" font-size="9.5" fill="#1f2833" stroke="#1f2833" stroke-width="0.2" text-anchor="middle" textLength="39.65" lengthAdjust="spacingAndGlyphs">8/12 (66.7)</text>
<text x="441.20" y="777.65" font-size="9.5" fill="#1f2833" stroke="#1f2833" stroke-width="0.2" text-anchor="middle" textLength="73.85" lengthAdjust="spacingAndGlyphs">1.469 (0.540, 3.995)</text>
<text x="505.00" y="777.65" font-size="9.5" fill="#1f2833" stroke="#1f2833" stroke-width="0.2" text-anchor="middle" textLength="20.52" lengthAdjust="spacingAndGlyphs">0.451</text>
<rect x="3.00" y="787.50" width="517.00" height="84.00" fill="#c7d5e3"/>
<rect x="3.00" y="786.90" width="517.00" height="1.40" fill="#eef3f8"/>
<rect x="70.00" y="823.00" width="450.00" height="1.30" fill="#eef3f8"/>
<text x="7.00" y="833.00" font-size="10.5" fill="#1f2833" font-weight="bold" textLength="49.30" lengthAdjust="spacingAndGlyphs">Risk group</text>
<text x="72.70" y="798.95" font-size="9.3" fill="#1f2833" stroke="#1f2833" stroke-width="0.12" textLength="38.74" lengthAdjust="spacingAndGlyphs">Favorable/</text>
<text x="72.70" y="808.75" font-size="9.3" fill="#1f2833" stroke="#1f2833" stroke-width="0.12" textLength="47.40" lengthAdjust="spacingAndGlyphs">intermediate/</text>
<text x="72.70" y="818.55" font-size="9.3" fill="#1f2833" stroke="#1f2833" stroke-width="0.12" textLength="62.89" lengthAdjust="spacingAndGlyphs">unknown/missing</text>
<text x="165.80" y="808.45" font-size="9.5" fill="#1f2833" stroke="#1f2833" stroke-width="0.2" text-anchor="middle" textLength="44.21" lengthAdjust="spacingAndGlyphs">33/65 (50.8)</text>
<text x="231.80" y="808.45" font-size="9.5" fill="#1f2833" stroke="#1f2833" stroke-width="0.2" text-anchor="middle" textLength="44.21" lengthAdjust="spacingAndGlyphs">26/41 (63.4)</text>
<text x="441.20" y="808.45" font-size="9.5" fill="#1f2833" stroke="#1f2833" stroke-width="0.2" text-anchor="middle" textLength="73.85" lengthAdjust="spacingAndGlyphs">0.986 (0.577, 1.684)</text>
<text x="505.00" y="808.45" font-size="9.5" fill="#1f2833" stroke="#1f2833" stroke-width="0.2" text-anchor="middle" textLength="20.52" lengthAdjust="spacingAndGlyphs">0.959</text>
<text x="72.70" y="836.05" font-size="9.3" fill="#1f2833" stroke="#1f2833" stroke-width="0.12" textLength="44.21" lengthAdjust="spacingAndGlyphs">Unfavorable</text>
<text x="72.70" y="845.85" font-size="9.3" fill="#1f2833" stroke="#1f2833" stroke-width="0.12" textLength="41.48" lengthAdjust="spacingAndGlyphs">cytogenetic</text>
<text x="72.70" y="855.65" font-size="9.3" fill="#1f2833" stroke="#1f2833" stroke-width="0.12" textLength="52.86" lengthAdjust="spacingAndGlyphs">risk/secondary</text>
<text x="72.70" y="865.45" font-size="9.3" fill="#1f2833" stroke="#1f2833" stroke-width="0.12" textLength="16.86" lengthAdjust="spacingAndGlyphs">AML</text>
<text x="165.80" y="850.45" font-size="9.5" fill="#1f2833" stroke="#1f2833" stroke-width="0.2" text-anchor="middle" textLength="35.09" lengthAdjust="spacingAndGlyphs">6/9 (66.7)</text>
<text x="231.80" y="850.45" font-size="9.5" fill="#1f2833" stroke="#1f2833" stroke-width="0.2" text-anchor="middle" textLength="35.09" lengthAdjust="spacingAndGlyphs">5/8 (62.5)</text>
<text x="441.20" y="850.45" font-size="9.5" fill="#1f2833" stroke="#1f2833" stroke-width="0.2" text-anchor="middle" textLength="73.85" lengthAdjust="spacingAndGlyphs">1.387 (0.421, 4.566)</text>
<text x="505.00" y="850.45" font-size="9.5" fill="#1f2833" stroke="#1f2833" stroke-width="0.2" text-anchor="middle" textLength="20.52" lengthAdjust="spacingAndGlyphs">0.590</text>
<rect x="3.00" y="871.50" width="517.00" height="77.50" fill="#dde5ee"/>
<rect x="3.00" y="870.90" width="517.00" height="1.40" fill="#eef3f8"/>
<rect x="70.00" y="896.50" width="450.00" height="1.30" fill="#eef3f8"/>
<rect x="70.00" y="922.60" width="450.00" height="1.30" fill="#eef3f8"/>
<text x="7.00" y="896.60" font-size="10.5" fill="#1f2833" font-weight="bold" textLength="37.70" lengthAdjust="spacingAndGlyphs">Baseline</text>
<text x="7.00" y="908.70" font-size="10.5" fill="#1f2833" font-weight="bold" font-style="italic" textLength="22.90" lengthAdjust="spacingAndGlyphs">FLT3</text>
<text x="7.00" y="920.80" font-size="10.5" fill="#1f2833" font-weight="bold" textLength="41.80" lengthAdjust="spacingAndGlyphs">mutation</text>
<text x="7.00" y="932.90" font-size="10.5" fill="#1f2833" font-weight="bold" textLength="20.20" lengthAdjust="spacingAndGlyphs">type</text>
<text x="72.70" y="887.50" font-size="9.3" fill="#1f2833" stroke="#1f2833" stroke-width="0.12" textLength="35.55" lengthAdjust="spacingAndGlyphs">ITD alone</text>
<text x="165.80" y="887.20" font-size="9.5" fill="#1f2833" stroke="#1f2833" stroke-width="0.2" text-anchor="middle" textLength="44.21" lengthAdjust="spacingAndGlyphs">28/58 (48.3)</text>
<text x="231.80" y="887.20" font-size="9.5" fill="#1f2833" stroke="#1f2833" stroke-width="0.2" text-anchor="middle" textLength="44.21" lengthAdjust="spacingAndGlyphs">26/40 (65.0)</text>
<text x="441.20" y="887.20" font-size="9.5" fill="#1f2833" stroke="#1f2833" stroke-width="0.2" text-anchor="middle" textLength="73.85" lengthAdjust="spacingAndGlyphs">0.709 (0.412, 1.222)</text>
<text x="505.00" y="887.20" font-size="9.5" fill="#1f2833" stroke="#1f2833" stroke-width="0.2" text-anchor="middle" textLength="20.52" lengthAdjust="spacingAndGlyphs">0.216</text>
<text x="72.70" y="908.45" font-size="9.3" fill="#1f2833" stroke="#1f2833" stroke-width="0.12" textLength="61.98" lengthAdjust="spacingAndGlyphs">TKD (D835/I836)</text>
<text x="72.70" y="918.25" font-size="9.3" fill="#1f2833" stroke="#1f2833" stroke-width="0.12" textLength="20.06" lengthAdjust="spacingAndGlyphs">alone</text>
<text x="165.80" y="913.05" font-size="9.5" fill="#1f2833" stroke="#1f2833" stroke-width="0.2" text-anchor="middle" textLength="44.21" lengthAdjust="spacingAndGlyphs">10/14 (71.4)</text>
<text x="231.80" y="913.05" font-size="9.5" fill="#1f2833" stroke="#1f2833" stroke-width="0.2" text-anchor="middle" textLength="35.09" lengthAdjust="spacingAndGlyphs">4/7 (57.1)</text>
<text x="441.20" y="913.05" font-size="9.5" fill="#1f2833" stroke="#1f2833" stroke-width="0.2" text-anchor="middle" textLength="73.24" lengthAdjust="spacingAndGlyphs">2.504 (0.746, 8.411)</text>
<text x="505.00" y="913.05" font-size="9.5" fill="#1f2833" stroke="#1f2833" stroke-width="0.2" text-anchor="middle" textLength="20.52" lengthAdjust="spacingAndGlyphs">0.138</text>
<text x="72.70" y="934.40" font-size="9.3" fill="#1f2833" stroke="#1f2833" stroke-width="0.12" textLength="48.60" lengthAdjust="spacingAndGlyphs">ITD with TKD</text>
<text x="72.70" y="944.20" font-size="9.3" fill="#1f2833" stroke="#1f2833" stroke-width="0.12" textLength="43.30" lengthAdjust="spacingAndGlyphs">(D835/I836)</text>
<text x="165.80" y="939.00" font-size="9.5" fill="#1f2833" stroke="#1f2833" stroke-width="0.2" text-anchor="middle" textLength="35.09" lengthAdjust="spacingAndGlyphs">1/2 (50.0)</text>
<text x="231.80" y="939.00" font-size="9.5" fill="#1f2833" stroke="#1f2833" stroke-width="0.2" text-anchor="middle" textLength="35.09" lengthAdjust="spacingAndGlyphs">1/2 (50.0)</text>
<text x="441.20" y="939.00" font-size="9.5" fill="#1f2833" stroke="#1f2833" stroke-width="0.2" text-anchor="middle" textLength="67.46" lengthAdjust="spacingAndGlyphs">&gt;999 (&lt;0.001, NE)</text>
<text x="505.00" y="939.00" font-size="9.5" fill="#1f2833" stroke="#1f2833" stroke-width="0.2" text-anchor="middle" textLength="20.52" lengthAdjust="spacingAndGlyphs">1.000</text>
<rect x="3.00" y="949.00" width="517.00" height="76.30" fill="#c7d5e3"/>
<rect x="3.00" y="948.40" width="517.00" height="1.40" fill="#eef3f8"/>
<rect x="70.00" y="973.40" width="450.00" height="1.30" fill="#eef3f8"/>
<rect x="70.00" y="999.00" width="450.00" height="1.30" fill="#eef3f8"/>
<text x="7.00" y="972.80" font-size="10.5" fill="#1f2833" font-weight="bold" textLength="37.70" lengthAdjust="spacingAndGlyphs">Baseline</text>
<text x="7.00" y="984.90" font-size="10.5" fill="#1f2833" font-weight="bold" font-style="italic" textLength="22.90" lengthAdjust="spacingAndGlyphs">FLT3</text>
<text x="7.00" y="997.00" font-size="10.5" fill="#1f2833" font-weight="bold" textLength="41.80" lengthAdjust="spacingAndGlyphs">mutation</text>
<text x="7.00" y="1009.00" font-size="10.5" fill="#1f2833" font-weight="bold" textLength="27.50" lengthAdjust="spacingAndGlyphs">status</text>
<text x="72.70" y="959.80" font-size="9.3" fill="#1f2833" stroke="#1f2833" stroke-width="0.12" textLength="54.22" lengthAdjust="spacingAndGlyphs">ITD allelic ratio</text>
<text x="72.70" y="969.60" font-size="9.3" fill="#1f2833" stroke="#1f2833" stroke-width="0.12" textLength="16.19" lengthAdjust="spacingAndGlyphs">&lt;0.5</text>
<text x="165.80" y="964.40" font-size="9.5" fill="#1f2833" stroke="#1f2833" stroke-width="0.2" text-anchor="middle" textLength="43.61" lengthAdjust="spacingAndGlyphs">11/25 (44.0)</text>
<text x="231.80" y="964.40" font-size="9.5" fill="#1f2833" stroke="#1f2833" stroke-width="0.2" text-anchor="middle" textLength="44.21" lengthAdjust="spacingAndGlyphs">13/18 (72.2)</text>
<text x="441.20" y="964.40" font-size="9.5" fill="#1f2833" stroke="#1f2833" stroke-width="0.2" text-anchor="middle" textLength="73.85" lengthAdjust="spacingAndGlyphs">1.279 (0.526, 3.107)</text>
<text x="505.00" y="964.40" font-size="9.5" fill="#1f2833" stroke="#1f2833" stroke-width="0.2" text-anchor="middle" textLength="20.52" lengthAdjust="spacingAndGlyphs">0.587</text>
<text x="72.70" y="985.10" font-size="9.3" fill="#1f2833" stroke="#1f2833" stroke-width="0.12" textLength="54.22" lengthAdjust="spacingAndGlyphs">ITD allelic ratio</text>
<text x="72.70" y="994.90" font-size="9.3" fill="#1f2833" stroke="#1f2833" stroke-width="0.12" textLength="15.90" lengthAdjust="spacingAndGlyphs">≥0.5</text>
<text x="165.80" y="989.70" font-size="9.5" fill="#1f2833" stroke="#1f2833" stroke-width="0.2" text-anchor="middle" textLength="44.21" lengthAdjust="spacingAndGlyphs">18/35 (51.4)</text>
<text x="231.80" y="989.70" font-size="9.5" fill="#1f2833" stroke="#1f2833" stroke-width="0.2" text-anchor="middle" textLength="44.21" lengthAdjust="spacingAndGlyphs">14/24 (58.3)</text>
<text x="441.20" y="989.70" font-size="9.5" fill="#1f2833" stroke="#1f2833" stroke-width="0.2" text-anchor="middle" textLength="73.85" lengthAdjust="spacingAndGlyphs">0.580 (0.285, 1.182)</text>
<text x="505.00" y="989.70" font-size="9.5" fill="#1f2833" stroke="#1f2833" stroke-width="0.2" text-anchor="middle" textLength="20.52" lengthAdjust="spacingAndGlyphs">0.134</text>
<text x="72.70" y="1015.65" font-size="9.3" fill="#1f2833" stroke="#1f2833" stroke-width="0.12" textLength="16.40" lengthAdjust="spacingAndGlyphs">TKD</text>
<text x="165.80" y="1015.35" font-size="9.5" fill="#1f2833" stroke="#1f2833" stroke-width="0.2" text-anchor="middle" textLength="44.21" lengthAdjust="spacingAndGlyphs">10/14 (71.4)</text>
<text x="231.80" y="1015.35" font-size="9.5" fill="#1f2833" stroke="#1f2833" stroke-width="0.2" text-anchor="middle" textLength="35.09" lengthAdjust="spacingAndGlyphs">4/7 (57.1)</text>
<text x="441.20" y="1015.35" font-size="9.5" fill="#1f2833" stroke="#1f2833" stroke-width="0.2" text-anchor="middle" textLength="73.24" lengthAdjust="spacingAndGlyphs">2.504 (0.746, 8.411)</text>
<text x="505.00" y="1015.35" font-size="9.5" fill="#1f2833" stroke="#1f2833" stroke-width="0.2" text-anchor="middle" textLength="20.52" lengthAdjust="spacingAndGlyphs">0.138</text>
<line x1="294.10" y1="354.00" x2="294.10" y2="1032.50" stroke="#111" stroke-width="2.0"/>
<line x1="288.37" y1="366.35" x2="300.09" y2="366.35" stroke="#1a1a1a" stroke-width="1.4"/>
<line x1="288.37" y1="363.75" x2="288.37" y2="368.95" stroke="#1a1a1a" stroke-width="1.4"/>
<line x1="300.09" y1="363.75" x2="300.09" y2="368.95" stroke="#1a1a1a" stroke-width="1.4"/>
<rect x="289.47" y="363.35" width="6.40" height="6.00" fill="#cf1238"/>
<line x1="288.22" y1="392.15" x2="331.01" y2="392.15" stroke="#1a1a1a" stroke-width="1.4"/>
<line x1="288.22" y1="389.55" x2="288.22" y2="394.75" stroke="#1a1a1a" stroke-width="1.4"/>
<line x1="331.01" y1="389.55" x2="331.01" y2="394.75" stroke="#1a1a1a" stroke-width="1.4"/>
<rect x="295.96" y="389.15" width="6.40" height="6.00" fill="#cf1238"/>
<line x1="288.32" y1="417.70" x2="300.07" y2="417.70" stroke="#1a1a1a" stroke-width="1.4"/>
<line x1="288.32" y1="415.10" x2="288.32" y2="420.30" stroke="#1a1a1a" stroke-width="1.4"/>
<line x1="300.07" y1="415.10" x2="300.07" y2="420.30" stroke="#1a1a1a" stroke-width="1.4"/>
<rect x="289.41" y="414.70" width="6.40" height="6.00" fill="#cf1238"/>
<line x1="288.11" y1="468.50" x2="342.91" y2="468.50" stroke="#1a1a1a" stroke-width="1.4"/>
<line x1="288.11" y1="465.90" x2="288.11" y2="471.10" stroke="#1a1a1a" stroke-width="1.4"/>
<line x1="342.91" y1="465.90" x2="342.91" y2="471.10" stroke="#1a1a1a" stroke-width="1.4"/>
<rect x="297.69" y="465.50" width="6.40" height="6.00" fill="#cf1238"/>
<line x1="288.32" y1="494.20" x2="300.07" y2="494.20" stroke="#1a1a1a" stroke-width="1.4"/>
<line x1="288.32" y1="491.60" x2="288.32" y2="496.80" stroke="#1a1a1a" stroke-width="1.4"/>
<line x1="300.07" y1="491.60" x2="300.07" y2="496.80" stroke="#1a1a1a" stroke-width="1.4"/>
<rect x="289.41" y="491.20" width="6.40" height="6.00" fill="#cf1238"/>
<line x1="289.44" y1="519.85" x2="317.56" y2="519.85" stroke="#1a1a1a" stroke-width="1.4"/>
<line x1="289.44" y1="517.25" x2="289.44" y2="522.45" stroke="#1a1a1a" stroke-width="1.4"/>
<line x1="317.56" y1="517.25" x2="317.56" y2="522.45" stroke="#1a1a1a" stroke-width="1.4"/>
<rect x="294.90" y="516.85" width="6.40" height="6.00" fill="#cf1238"/>
<line x1="287.76" y1="545.00" x2="300.93" y2="545.00" stroke="#1a1a1a" stroke-width="1.4"/>
<line x1="287.76" y1="542.40" x2="287.76" y2="547.60" stroke="#1a1a1a" stroke-width="1.4"/>
<line x1="300.93" y1="542.40" x2="300.93" y2="547.60" stroke="#1a1a1a" stroke-width="1.4"/>
<rect x="289.15" y="542.00" width="6.40" height="6.00" fill="#cf1238"/>
<line x1="290.07" y1="570.60" x2="310.38" y2="570.60" stroke="#1a1a1a" stroke-width="1.4"/>
<line x1="290.07" y1="568.00" x2="290.07" y2="573.20" stroke="#1a1a1a" stroke-width="1.4"/>
<line x1="310.38" y1="568.00" x2="310.38" y2="573.20" stroke="#1a1a1a" stroke-width="1.4"/>
<rect x="293.83" y="567.60" width="6.40" height="6.00" fill="#cf1238"/>
<line x1="288.31" y1="596.55" x2="320.46" y2="596.55" stroke="#1a1a1a" stroke-width="1.4"/>
<line x1="288.31" y1="593.95" x2="288.31" y2="599.15" stroke="#1a1a1a" stroke-width="1.4"/>
<line x1="320.46" y1="593.95" x2="320.46" y2="599.15" stroke="#1a1a1a" stroke-width="1.4"/>
<rect x="294.14" y="593.55" width="6.40" height="6.00" fill="#cf1238"/>
<line x1="282.80" y1="622.15" x2="290.90" y2="622.15" stroke="#1a1a1a" stroke-width="1.4"/>
<line x1="282.80" y1="619.55" x2="282.80" y2="624.75" stroke="#1a1a1a" stroke-width="1.4"/>
<line x1="290.90" y1="619.55" x2="290.90" y2="624.75" stroke="#1a1a1a" stroke-width="1.4"/>
<rect x="280.89" y="619.15" width="6.40" height="6.00" fill="#cf1238"/>
<line x1="287.04" y1="647.25" x2="300.35" y2="647.25" stroke="#1a1a1a" stroke-width="1.4"/>
<line x1="287.04" y1="644.65" x2="287.04" y2="649.85" stroke="#1a1a1a" stroke-width="1.4"/>
<line x1="300.35" y1="644.65" x2="300.35" y2="649.85" stroke="#1a1a1a" stroke-width="1.4"/>
<rect x="288.30" y="644.25" width="6.40" height="6.00" fill="#cf1238"/>
<line x1="287.74" y1="672.50" x2="307.23" y2="672.50" stroke="#1a1a1a" stroke-width="1.4"/>
<line x1="287.74" y1="669.90" x2="287.74" y2="675.10" stroke="#1a1a1a" stroke-width="1.4"/>
<line x1="307.23" y1="669.90" x2="307.23" y2="675.10" stroke="#1a1a1a" stroke-width="1.4"/>
<rect x="290.68" y="669.50" width="6.40" height="6.00" fill="#cf1238"/>
<line x1="289.99" y1="723.20" x2="382.66" y2="723.20" stroke="#1a1a1a" stroke-width="1.4"/>
<line x1="289.99" y1="720.60" x2="289.99" y2="725.80" stroke="#1a1a1a" stroke-width="1.4"/>
<line x1="382.66" y1="720.60" x2="382.66" y2="725.80" stroke="#1a1a1a" stroke-width="1.4"/>
<rect x="306.71" y="720.20" width="6.40" height="6.00" fill="#cf1238"/>
<line x1="286.32" y1="749.20" x2="296.59" y2="749.20" stroke="#1a1a1a" stroke-width="1.4"/>
<line x1="286.32" y1="746.60" x2="286.32" y2="751.80" stroke="#1a1a1a" stroke-width="1.4"/>
<line x1="296.59" y1="746.60" x2="296.59" y2="751.80" stroke="#1a1a1a" stroke-width="1.4"/>
<rect x="286.64" y="746.20" width="6.40" height="6.00" fill="#cf1238"/>
<line x1="288.49" y1="775.05" x2="326.84" y2="775.05" stroke="#1a1a1a" stroke-width="1.4"/>
<line x1="288.49" y1="772.45" x2="288.49" y2="777.65" stroke="#1a1a1a" stroke-width="1.4"/>
<line x1="326.84" y1="772.45" x2="326.84" y2="777.65" stroke="#1a1a1a" stroke-width="1.4"/>
<rect x="295.61" y="772.05" width="6.40" height="6.00" fill="#cf1238"/>
<line x1="288.90" y1="805.85" x2="301.19" y2="805.85" stroke="#1a1a1a" stroke-width="1.4"/>
<line x1="288.90" y1="803.25" x2="288.90" y2="808.45" stroke="#1a1a1a" stroke-width="1.4"/>
<line x1="301.19" y1="803.25" x2="301.19" y2="808.45" stroke="#1a1a1a" stroke-width="1.4"/>
<rect x="290.24" y="802.85" width="6.40" height="6.00" fill="#cf1238"/>
<line x1="287.17" y1="848.85" x2="333.18" y2="848.85" stroke="#1a1a1a" stroke-width="1.4"/>
<line x1="287.17" y1="846.25" x2="287.17" y2="851.45" stroke="#1a1a1a" stroke-width="1.4"/>
<line x1="333.18" y1="846.25" x2="333.18" y2="851.45" stroke="#1a1a1a" stroke-width="1.4"/>
<rect x="294.70" y="845.85" width="6.40" height="6.00" fill="#cf1238"/>
<line x1="287.07" y1="884.60" x2="296.06" y2="884.60" stroke="#1a1a1a" stroke-width="1.4"/>
<line x1="287.07" y1="882.00" x2="287.07" y2="887.20" stroke="#1a1a1a" stroke-width="1.4"/>
<line x1="296.06" y1="882.00" x2="296.06" y2="887.20" stroke="#1a1a1a" stroke-width="1.4"/>
<rect x="287.17" y="881.60" width="6.40" height="6.00" fill="#cf1238"/>
<line x1="290.78" y1="910.45" x2="375.86" y2="910.45" stroke="#1a1a1a" stroke-width="1.4"/>
<line x1="290.78" y1="907.85" x2="290.78" y2="913.05" stroke="#1a1a1a" stroke-width="1.4"/>
<line x1="375.86" y1="907.85" x2="375.86" y2="913.05" stroke="#1a1a1a" stroke-width="1.4"/>
<rect x="307.09" y="907.45" width="6.40" height="6.00" fill="#cf1238"/>
<line x1="288.34" y1="961.80" x2="316.99" y2="961.80" stroke="#1a1a1a" stroke-width="1.4"/>
<line x1="288.34" y1="959.20" x2="288.34" y2="964.40" stroke="#1a1a1a" stroke-width="1.4"/>
<line x1="316.99" y1="959.20" x2="316.99" y2="964.40" stroke="#1a1a1a" stroke-width="1.4"/>
<rect x="293.50" y="958.80" width="6.40" height="6.00" fill="#cf1238"/>
<line x1="285.66" y1="987.10" x2="295.62" y2="987.10" stroke="#1a1a1a" stroke-width="1.4"/>
<line x1="285.66" y1="984.50" x2="285.66" y2="989.70" stroke="#1a1a1a" stroke-width="1.4"/>
<line x1="295.62" y1="984.50" x2="295.62" y2="989.70" stroke="#1a1a1a" stroke-width="1.4"/>
<rect x="285.74" y="984.10" width="6.40" height="6.00" fill="#cf1238"/>
<line x1="290.78" y1="1012.75" x2="375.86" y2="1012.75" stroke="#1a1a1a" stroke-width="1.4"/>
<line x1="290.78" y1="1010.15" x2="290.78" y2="1015.35" stroke="#1a1a1a" stroke-width="1.4"/>
<line x1="375.86" y1="1010.15" x2="375.86" y2="1015.35" stroke="#1a1a1a" stroke-width="1.4"/>
<rect x="307.09" y="1009.75" width="6.40" height="6.00" fill="#cf1238"/>
<line x1="251.40" y1="1032.30" x2="402.50" y2="1032.30" stroke="#111" stroke-width="1.6"/>
<line x1="260.30" y1="1032.30" x2="260.30" y2="1036.00" stroke="#111" stroke-width="1.3"/>
<text x="260.30" y="1050.40" font-size="9.8" fill="#222" stroke="#222" stroke-width="0.22" text-anchor="middle">−2</text>
<line x1="282.50" y1="1032.30" x2="282.50" y2="1036.00" stroke="#111" stroke-width="1.3"/>
<text x="282.50" y="1050.40" font-size="9.8" fill="#222" stroke="#222" stroke-width="0.22" text-anchor="middle">0</text>
<line x1="304.70" y1="1032.30" x2="304.70" y2="1036.00" stroke="#111" stroke-width="1.3"/>
<text x="304.70" y="1050.40" font-size="9.8" fill="#222" stroke="#222" stroke-width="0.22" text-anchor="middle">2</text>
<line x1="326.90" y1="1032.30" x2="326.90" y2="1036.00" stroke="#111" stroke-width="1.3"/>
<text x="326.90" y="1050.40" font-size="9.8" fill="#222" stroke="#222" stroke-width="0.22" text-anchor="middle">4</text>
<line x1="349.10" y1="1032.30" x2="349.10" y2="1036.00" stroke="#111" stroke-width="1.3"/>
<text x="349.10" y="1050.40" font-size="9.8" fill="#222" stroke="#222" stroke-width="0.22" text-anchor="middle">6</text>
<line x1="371.30" y1="1032.30" x2="371.30" y2="1036.00" stroke="#111" stroke-width="1.3"/>
<text x="371.30" y="1050.40" font-size="9.8" fill="#222" stroke="#222" stroke-width="0.22" text-anchor="middle">8</text>
<line x1="393.50" y1="1032.30" x2="393.50" y2="1036.00" stroke="#111" stroke-width="1.3"/>
<text x="393.50" y="1050.40" font-size="9.8" fill="#222" stroke="#222" stroke-width="0.22" text-anchor="middle">10</text>
<line x1="226.00" y1="1060.30" x2="291.80" y2="1060.30" stroke="#1d5189" stroke-width="2.0"/>
<path d="M217.3,1060.3 L227.5,1055.6 L225.2,1060.3 L227.5,1065.0 Z" fill="#1d5189"/>
<line x1="296.80" y1="1060.30" x2="364.00" y2="1060.30" stroke="#c8102e" stroke-width="2.0"/>
<path d="M372.8,1060.3 L362.6,1055.6 L364.9,1060.3 L362.6,1065.0 Z" fill="#c8102e"/>
<text x="126.90" y="1064.20" font-size="10.8" fill="#1d5189" stroke="#1d5189" stroke-width="0.22" textLength="84.60" lengthAdjust="spacingAndGlyphs">Favors GIL+AZA</text>
<text x="380.40" y="1064.20" font-size="10.8" fill="#c8102e" stroke="#c8102e" stroke-width="0.22" textLength="59.50" lengthAdjust="spacingAndGlyphs">Favors AZA</text>
</svg>
</body></html>
